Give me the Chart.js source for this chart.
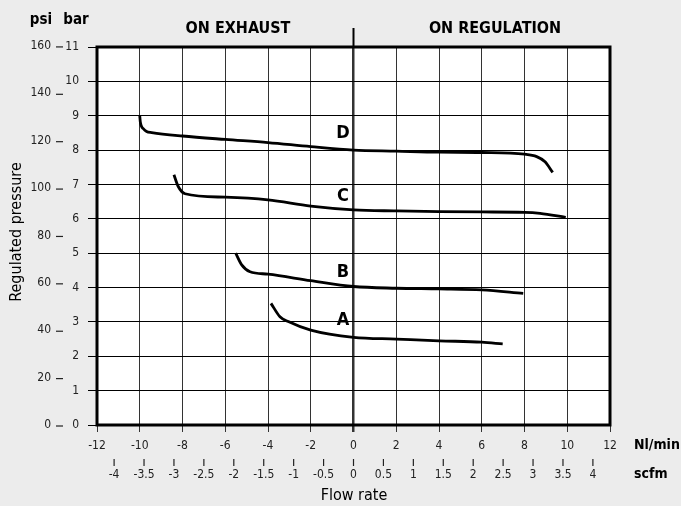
<!DOCTYPE html>
<html>
<head>
<meta charset="utf-8">
<script src="https://cdn.jsdelivr.net/npm/chart.js@4.4.0/dist/chart.umd.min.js"></script>
<style>
    html, body { margin: 0; padding: 0; background: #ececec; }
    #wrap { width: 681px; height: 506px; }
</style>
</head>
<body>
<div id="wrap"><canvas id="pressureChart" width="681" height="506"></canvas></div>
<script>
// ---- data (flow in Nl/min, pressure in bar) ----
var flowA = [-3.86, -3.44, -3.05, -2, 0, 2, 4, 6, 6.98];
var pressA = [3.54, 3.15, 3.01, 2.76, 2.55, 2.50, 2.45, 2.41, 2.36];

var flowB = [-5.51, -5.23, -4.84, -4, -2, 0, 2, 4, 6, 7.94];
var pressB = [5.00, 4.66, 4.46, 4.39, 4.20, 4.03, 3.98, 3.96, 3.93, 3.83];

var flowC = [-8.40, -8.2, -7.88, -6, -4, -2, 0, 2, 4, 6, 8, 8.73, 9.93];
var pressC = [7.28, 6.94, 6.73, 6.63, 6.55, 6.37, 6.26, 6.23, 6.21, 6.20, 6.19, 6.16, 6.04];

var flowD = [-10, -9.97, -9.83, -9.68, -9.44, -8, -6, -4, -2, 0, 2, 4, 6, 8, 8.57, 8.96, 9.32];
var pressD = [9.0, 8.80, 8.62, 8.54, 8.51, 8.41, 8.31, 8.22, 8.10, 8.0, 7.97, 7.94, 7.93, 7.88, 7.81, 7.66, 7.35];

var curveNames = ['A', 'B', 'C', 'D'];
var curveLabelPos = [[-0.49, 3.06], [-0.49, 4.45], [-0.49, 6.64], [-0.49, 8.50]];

// secondary scales
var psiTicks = [0, 20, 40, 60, 80, 100, 120, 140, 160];
var scfmTicks = [-4, -3.5, -3, -2.5, -2, -1.5, -1, -0.5, 0, 0.5, 1, 1.5, 2, 2.5, 3, 3.5, 4];
var BAR_PER_PSI = 1 / 14.5038;
var NLMIN_PER_SCFM = 2.8;

var narrow = '"Liberation Sans Narrow", "DejaVu Sans Condensed", sans-serif';

function toPoints(xs, ys) {
    return xs.map(function(x, i) { return { x: x, y: ys[i] }; });
}

function curve(xs, ys) {
    return {
        data: toPoints(xs, ys),
        showLine: true,
        borderColor: '#000',
        borderWidth: 2.8,
        pointRadius: 0,
        fill: false,
        cubicInterpolationMode: 'monotone'
    };
}

var decorPlugin = {
    id: 'decor',
    beforeDraw: function(chart) {
        var ctx = chart.ctx, a = chart.chartArea;
        ctx.save();
        ctx.fillStyle = '#ececec';
        ctx.fillRect(0, 0, chart.width, chart.height);
        ctx.fillStyle = '#fff';
        ctx.fillRect(a.left, a.top, a.right - a.left, a.bottom - a.top);
        ctx.restore();
    },
    afterDraw: function(chart) {
        var ctx = chart.ctx, a = chart.chartArea;
        var xs = chart.scales.x, ys = chart.scales.y;
        ctx.save();

        // frame
        ctx.strokeStyle = '#000';
        ctx.lineWidth = 3;
        ctx.strokeRect(a.left, a.top, a.right - a.left, a.bottom - a.top);

        // divider above the plot
        var x0 = xs.getPixelForValue(0);
        ctx.lineWidth = 2;
        ctx.beginPath();
        ctx.moveTo(x0, 28);
        ctx.lineTo(x0, a.top);
        ctx.stroke();

        ctx.fillStyle = '#000';
        ctx.textBaseline = 'middle';
        ctx.textAlign = 'center';
        ctx.font = 'bold 16px ' + narrow;
        ctx.fillText('ON EXHAUST', 238, 29);
        ctx.fillText('ON REGULATION', 495, 29);

        // curve letters
        ctx.font = 'bold 18px ' + narrow;
        curveNames.forEach(function(n, i) {
            ctx.fillText(n, xs.getPixelForValue(curveLabelPos[i][0]), ys.getPixelForValue(curveLabelPos[i][1]));
        });

        // unit headers
        ctx.font = 'bold 15px ' + narrow;
        ctx.fillText('psi', 41, 20);
        ctx.fillText('bar', 76, 20);

        // psi axis
        ctx.font = '12px ' + narrow;
        ctx.textAlign = 'right';
        ctx.fillStyle = '#222';
        ctx.strokeStyle = '#222';
        ctx.lineWidth = 1.2;
        psiTicks.forEach(function(p) {
            var y = ys.getPixelForValue(p * BAR_PER_PSI);
            ctx.fillText(String(p), 51, y);
            ctx.beginPath();
            ctx.moveTo(56, y + 1);
            ctx.lineTo(63, y + 1);
            ctx.stroke();
        });

        // scfm axis
        ctx.textAlign = 'center';
        scfmTicks.forEach(function(s) {
            var x = xs.getPixelForValue(s * NLMIN_PER_SCFM);
            ctx.beginPath();
            ctx.moveTo(x, 459);
            ctx.lineTo(x, 466);
            ctx.stroke();
            ctx.fillText(String(s), x, 475);
        });

        // unit labels on the right
        ctx.fillStyle = '#000';
        ctx.textAlign = 'left';
        ctx.font = 'bold 14px ' + narrow;
        ctx.fillText('Nl/min', 634, 445);
        ctx.fillText('scfm', 634, 474);

        // axis titles
        ctx.font = '16px ' + narrow;
        ctx.textAlign = 'center';
        ctx.fillText('Flow rate', 354, 496);
        ctx.translate(17, 232);
        ctx.rotate(-Math.PI / 2);
        ctx.fillText('Regulated pressure', 0, 0);

        ctx.restore();
    }
};

var chart = new Chart(document.getElementById('pressureChart'), {
    type: 'scatter',
    data: {
        datasets: [curve(flowA, pressA), curve(flowB, pressB), curve(flowC, pressC), curve(flowD, pressD)]
    },
    options: {
        responsive: false,
        animation: false,
        layout: { padding: { left: 0, top: 47, right: 71, bottom: 0 } },
        plugins: {
            legend: { display: false },
            tooltip: { enabled: false }
        },
        scales: {
            x: {
                type: 'linear',
                min: -12,
                max: 12,
                afterFit: function(scale) { scale.height = 81; },
                border: { display: false },
                grid: {
                    color: '#333',
                    lineWidth: function(c) { return c.tick && c.tick.value === 0 ? 2.5 : 1; },
                    tickLength: 7
                },
                ticks: {
                    stepSize: 2,
                    padding: 7,
                    color: '#222',
                    font: { family: narrow, size: 12 }
                }
            },
            y: {
                type: 'linear',
                min: 0,
                max: 11,
                afterFit: function(scale) { scale.width = 97; },
                border: { display: false },
                grid: {
                    color: '#000',
                    lineWidth: 1,
                    tickLength: 9
                },
                ticks: {
                    stepSize: 1,
                    padding: 9,
                    color: '#222',
                    font: { family: narrow, size: 12 }
                }
            }
        }
    },
    plugins: [decorPlugin]
});
</script>
</body>
</html>
